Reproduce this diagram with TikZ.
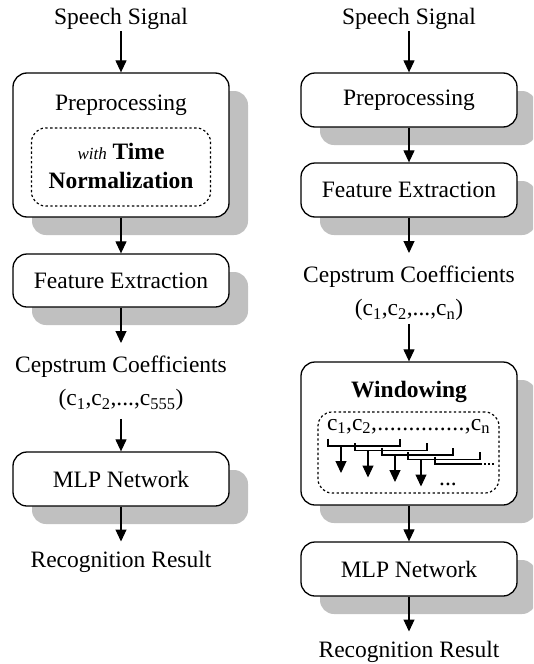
\documentclass[tikz,border=0pt]{standalone}
\usepackage{fontspec}
\setmainfont{Liberation Serif}
\usetikzlibrary{shadows,arrows.meta}
\definecolor{shadowgray}{RGB}{192,192,192}
\newcommand\mainsize{\fontsize{23.5pt}{33pt}\selectfont}
\begin{document}
\begin{tikzpicture}[x=1pt,y=-1pt,
  every node/.style={font=\mainsize},
  box/.style={draw, line width=1.3pt, rounded corners=14pt, fill=white,
    minimum width=216pt, inner sep=0pt,
    drop shadow={shadow xshift=19pt, shadow yshift=-18pt, fill=shadowgray, opacity=1}},
  txt/.style={inner sep=0pt, anchor=base},
  arr/.style={line width=1.2pt, -{Triangle[length=12pt,width=11pt]}},
  dbox/.style={draw, line width=1.2pt, dash pattern=on 2.4pt off 2.4pt,
    rounded corners=14pt, inner sep=0pt},
  bracket/.style={line width=1.2pt},
  cep/.style={align=center, anchor=north, inner xsep=0pt, inner ysep=13pt}
]
\useasboundingbox (0,0) rectangle (533,664);
\clip (0,0) rectangle (533,664);

% ---------------- left column ----------------
\node[txt, inner ysep=1.5pt] (sigL) at (121,24.5) {Speech Signal};
\node[box, minimum height=144pt] (preL) at (121,145) {};
\node[txt] (preLt) at (121,110) {Preprocessing};
\node[dbox, minimum width=179pt, minimum height=78pt] (tnL) at (121,167) {};
\node[txt] (tn1) at (121,159) {{\fontsize{17pt}{20pt}\selectfont\itshape with} \textbf{Time}};
\node[txt] (tn2) at (121,188) {\textbf{Normalization}};
\node[box, minimum height=53pt] (feL) at (121,280.5) {Feature Extraction};
\node[cep] (cepL) at (121,343) {Cepstrum Coefficients\\(c\textsubscript{1},c\textsubscript{2},...,c\textsubscript{555})};
\node[box, minimum height=54pt] (mlpL) at (121,479) {MLP Network};
\node[txt, inner ysep=9pt] (resL) at (121,567) {Recognition Result};

\draw[arr] (sigL.south) -- (preL.north);
\draw[arr] (preL.south) -- (feL.north);
\draw[arr] (feL.south) -- (cepL.north);
\draw[arr, shorten <=-5pt] (cepL.south) -- (mlpL.north);
\draw[arr] (mlpL.south) -- (resL.north);

% ---------------- right column ----------------
\node[txt, inner ysep=1.5pt] (sigR) at (409,24.5) {Speech Signal};
\node[box, minimum height=54pt] (preR) at (409,100) {Preprocessing};
\node[box, minimum height=54pt] (feR) at (409,190) {Feature Extraction};
\node[cep] (cepR) at (409,253) {Cepstrum Coefficients\\(c\textsubscript{1},c\textsubscript{2},...,c\textsubscript{n})};
\node[box, minimum height=143pt] (winR) at (409,433.5) {};
\node[txt] (winT) at (409,397) {\textbf{Windowing}};
\node[dbox, minimum width=181pt, minimum height=81pt] (winD) at (408.5,452.5) {};
\node[txt] (cseq) at (408.5,430) {\hbox to 163pt{c\textsubscript{1},c\textsubscript{2},\xleaders\hbox{.}\hfill,c\textsubscript{n}}};

% overlapping windows
\foreach \xl/\xr/\yy in {328/400/446, 355/427/450.5, 382/453/455, 408/480/459.5}{
  \draw[bracket] (\xl,\yy-7.5) -- (\xl,\yy) -- (\xr,\yy) -- (\xr,\yy-7.5);
  \coordinate (ws) at (\xl+13,\yy);
  \coordinate (we) at (\xl+13,\yy+27);
  \draw[arr] (ws) -- (we);
}
\draw[bracket] (435,456.5) -- (435,464) -- (480,464);
\draw[bracket, dash pattern=on 2pt off 2pt] (480,464) -- (494,464);
\node[txt] (wdots) at (448,485) {...};

\node[box, minimum height=54pt] (mlpR) at (409,569) {MLP Network};
\node[txt, inner ysep=9pt] (resR) at (409,657) {Recognition Result};

\draw[arr] (sigR.south) -- (preR.north);
\draw[arr] (preR.south) -- (feR.north);
\draw[arr] (feR.south) -- (cepR.north);
\draw[arr, shorten <=-10pt] (cepR.south) -- (winR.north);
\draw[arr] (winR.south) -- (mlpR.north);
\draw[arr] (mlpR.south) -- (resR.north);
\end{tikzpicture}
\end{document}
